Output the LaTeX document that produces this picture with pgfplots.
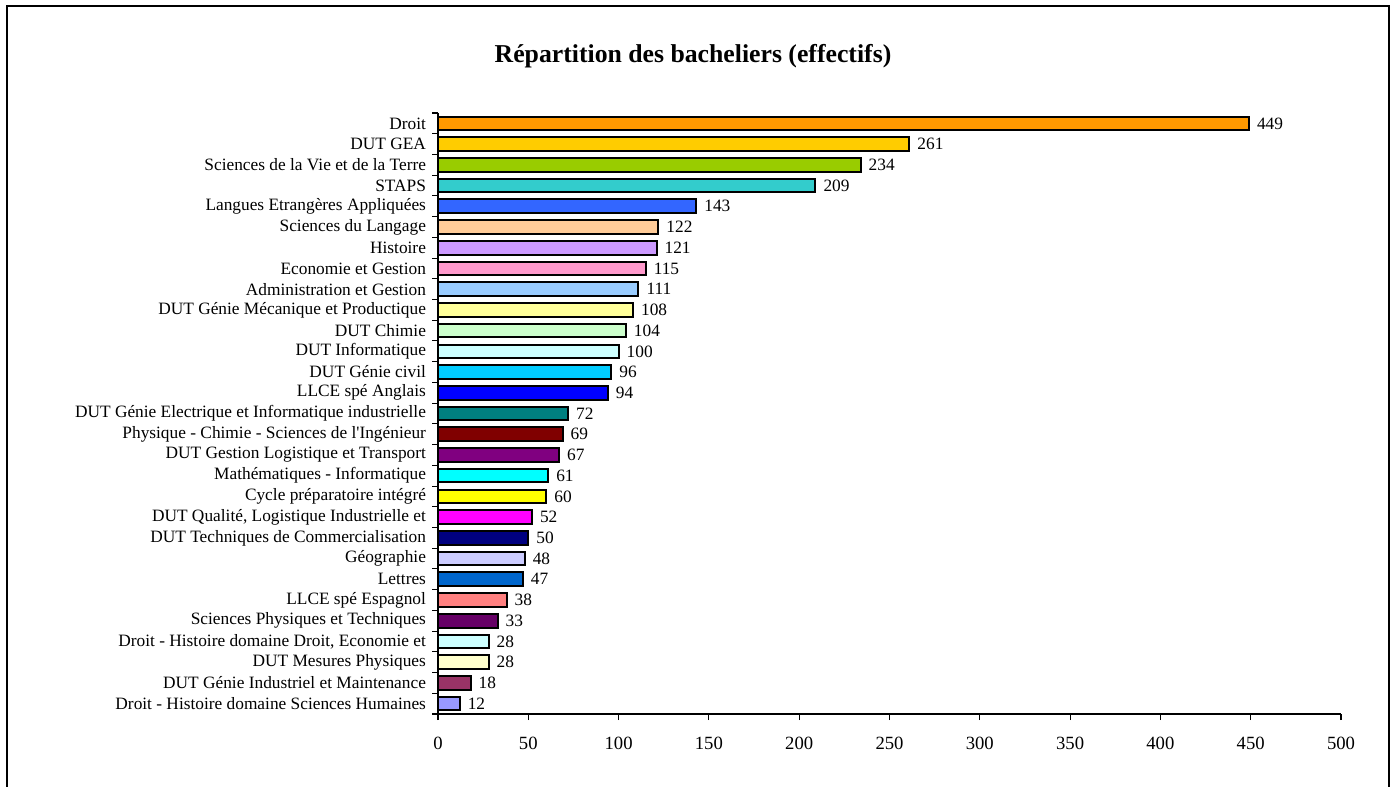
\documentclass[border=0pt]{standalone}
\usepackage{fontspec}
\setmainfont{Liberation Serif}
\usepackage{pgfplots}
\pgfplotsset{compat=1.18}

\definecolor{c1}{HTML}{FF9900}
\definecolor{c2}{HTML}{FFCC00}
\definecolor{c3}{HTML}{99CC00}
\definecolor{c4}{HTML}{33CCCC}
\definecolor{c5}{HTML}{3366FF}
\definecolor{c6}{HTML}{FFCC99}
\definecolor{c7}{HTML}{CC99FF}
\definecolor{c8}{HTML}{FF99CC}
\definecolor{c9}{HTML}{99CCFF}
\definecolor{c10}{HTML}{FFFF99}
\definecolor{c11}{HTML}{CCFFCC}
\definecolor{c12}{HTML}{CCFFFF}
\definecolor{c13}{HTML}{00CCFF}
\definecolor{c14}{HTML}{0000FF}
\definecolor{c15}{HTML}{008080}
\definecolor{c16}{HTML}{800000}
\definecolor{c17}{HTML}{800080}
\definecolor{c18}{HTML}{00FFFF}
\definecolor{c19}{HTML}{FFFF00}
\definecolor{c20}{HTML}{FF00FF}
\definecolor{c21}{HTML}{000080}
\definecolor{c22}{HTML}{CCCCFF}
\definecolor{c23}{HTML}{0066CC}
\definecolor{c24}{HTML}{FF8080}
\definecolor{c25}{HTML}{660066}
\definecolor{c26}{HTML}{CCFFFF}
\definecolor{c27}{HTML}{FFFFCC}
\definecolor{c28}{HTML}{993366}
\definecolor{c29}{HTML}{9999FF}

\tikzset{b/.style={fill=#1, draw=black, line width=1.5pt, bar shift=0pt}}

\begin{document}
\begin{tikzpicture}[x=0.75pt,y=0.75pt]
\useasboundingbox (0,0) rectangle (1394,787);
\draw[line width=1.8pt] (7,-10) -- (7,781) -- (1389,781) -- (1389,-10);
\node[font=\bfseries\fontsize{19.3}{22}\selectfont, anchor=base] at (693,724)
  {Répartition des bacheliers (effectifs)};

\begin{axis}[
  at={(328.5pt,54.75pt)}, anchor=south west,
  scale only axis, width=677.25pt, height=450.75pt,
  xbar, bar width=10.2pt,
  xmin=0, xmax=500, ymin=0.5, ymax=29.5, y dir=reverse,
  axis x line*=bottom, axis y line*=left,
  axis line style={line width=0.8pt},
  xtick={0,50,...,500},
  ytick={1,...,29},
  minor ytick={0.5,1.5,...,29.5},
  tick align=outside,
  major tick length=4.5pt, minor tick length=4.5pt,
  major y tick style={draw=none},
  minor y tick style={black, line width=0.8pt},
  major x tick style={black, line width=0.8pt},
  yticklabels={
    Droit, DUT GEA, Sciences de la Vie et de la Terre, STAPS,
    Langues Etrangères Appliquées, Sciences du Langage, Histoire,
    Economie et Gestion, Administration et Gestion,
    DUT Génie Mécanique et Productique, DUT Chimie, DUT Informatique,
    DUT Génie civil, LLCE spé Anglais,
    DUT Génie Electrique et Informatique industrielle,
    Physique - Chimie - Sciences de l\textquotesingle Ingénieur,
    DUT Gestion Logistique et Transport, Mathématiques - Informatique,
    Cycle préparatoire intégré, {DUT Qualité, Logistique Industrielle et},
    DUT Techniques de Commercialisation, Géographie, Lettres,
    LLCE spé Espagnol, Sciences Physiques et Techniques,
    {Droit - Histoire domaine Droit, Economie et}, DUT Mesures Physiques,
    DUT Génie Industriel et Maintenance,
    Droit - Histoire domaine Sciences Humaines},
  yticklabel style={font=\fontsize{13}{15}\selectfont, xshift=-1pt},
  xticklabel style={font=\fontsize{14}{16}\selectfont, yshift=-9pt},
  /pgf/number format/assume math mode=true,
  point meta=x,
  nodes near coords,
  nodes near coords style={font=\fontsize{13}{15}\selectfont, anchor=west, xshift=2pt},
  clip=false,
]
\addplot[b=c1]  coordinates {(449,1)};
\addplot[b=c2]  coordinates {(261,2)};
\addplot[b=c3]  coordinates {(234,3)};
\addplot[b=c4]  coordinates {(209,4)};
\addplot[b=c5]  coordinates {(143,5)};
\addplot[b=c6]  coordinates {(122,6)};
\addplot[b=c7]  coordinates {(121,7)};
\addplot[b=c8]  coordinates {(115,8)};
\addplot[b=c9]  coordinates {(111,9)};
\addplot[b=c10] coordinates {(108,10)};
\addplot[b=c11] coordinates {(104,11)};
\addplot[b=c12] coordinates {(100,12)};
\addplot[b=c13] coordinates {(96,13)};
\addplot[b=c14] coordinates {(94,14)};
\addplot[b=c15] coordinates {(72,15)};
\addplot[b=c16] coordinates {(69,16)};
\addplot[b=c17] coordinates {(67,17)};
\addplot[b=c18] coordinates {(61,18)};
\addplot[b=c19] coordinates {(60,19)};
\addplot[b=c20] coordinates {(52,20)};
\addplot[b=c21] coordinates {(50,21)};
\addplot[b=c22] coordinates {(48,22)};
\addplot[b=c23] coordinates {(47,23)};
\addplot[b=c24] coordinates {(38,24)};
\addplot[b=c25] coordinates {(33,25)};
\addplot[b=c26] coordinates {(28,26)};
\addplot[b=c27] coordinates {(28,27)};
\addplot[b=c28] coordinates {(18,28)};
\addplot[b=c29] coordinates {(12,29)};
\end{axis}
\end{tikzpicture}
\end{document}
